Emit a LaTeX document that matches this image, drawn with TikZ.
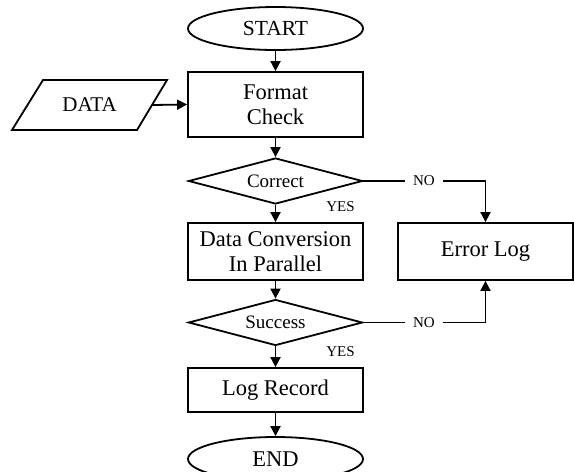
\documentclass[tikz,border=0pt]{standalone}
\usepackage{fontspec}
\setmainfont{Liberation Serif}
\usetikzlibrary{shapes.geometric,arrows.meta}
\begin{document}
\begin{tikzpicture}[x=1pt,y=-1pt,
  line width=1.8pt,
  box/.style={draw, rectangle, minimum width=175pt, inner sep=0pt, align=center, font=\fontsize{22.5}{25}\selectfont},
  term/.style={draw, ellipse, minimum width=175pt, minimum height=43pt, inner sep=0pt, font=\fontsize{21.5}{24}\selectfont},
  dec/.style={draw, diamond, aspect=3.8, minimum width=174pt, minimum height=46pt, inner sep=0pt, font=\fontsize{19}{22}\selectfont},
  lbl/.style={font=\fontsize{15}{18}\selectfont, inner sep=0pt},
  nolbl/.style={lbl, fill=white, inner xsep=8pt, inner ysep=2pt},
  arr/.style={-{Triangle[length=10pt,width=10pt]}},
]
\useasboundingbox (0,0) rectangle (574,472);
\clip (0,0) rectangle (574,472);

\node[term] (start) at (275.5,28.5) {START};
\node[box, minimum height=65pt] (fmt) at (275.5,104.5) {Format\\Check};
\node[dec] (correct) at (275.5,181) {Correct};
\node[box, minimum height=57pt] (conv) at (275.5,251.5) {Data Conversion\\In Parallel};
\node[box, minimum height=57pt] (err) at (485.5,251.5) {Error Log};
\node[dec] (success) at (275.5,322.5) {Success};
\node[box, minimum height=44pt] (log) at (275.5,390) {Log Record};
\node[term, minimum height=44pt, font=\fontsize{22.5}{24}\selectfont] (end) at (275.5,459) {END};

% DATA parallelogram
\draw (43,80) -- (167,80) -- (137,130) -- (12,130) -- cycle;
\node[font=\fontsize{21}{24}\selectfont] (data) at (89.5,105) {DATA};
\coordinate (dataR) at (152,105);
\draw[arr] (dataR) -- (fmt.west);

\draw[arr] (start) -- (fmt);
\draw[arr] (fmt) -- (correct);
\draw[arr] (correct) -- (conv);
\draw[arr] (conv) -- (success);
\draw[arr] (success) -- (log);
\draw[arr] (log) -- (end);

\draw[arr] (correct.east) -| (err.north);
\draw[arr] (success.east) -| (err.south);
\node[nolbl] (no1) at (424,181) {NO};
\node[nolbl] (no2) at (424,322.5) {NO};

\node[lbl] (yes1) at (340.5,207) {YES};
\node[lbl] (yes2) at (340.5,352) {YES};
\end{tikzpicture}
\end{document}
